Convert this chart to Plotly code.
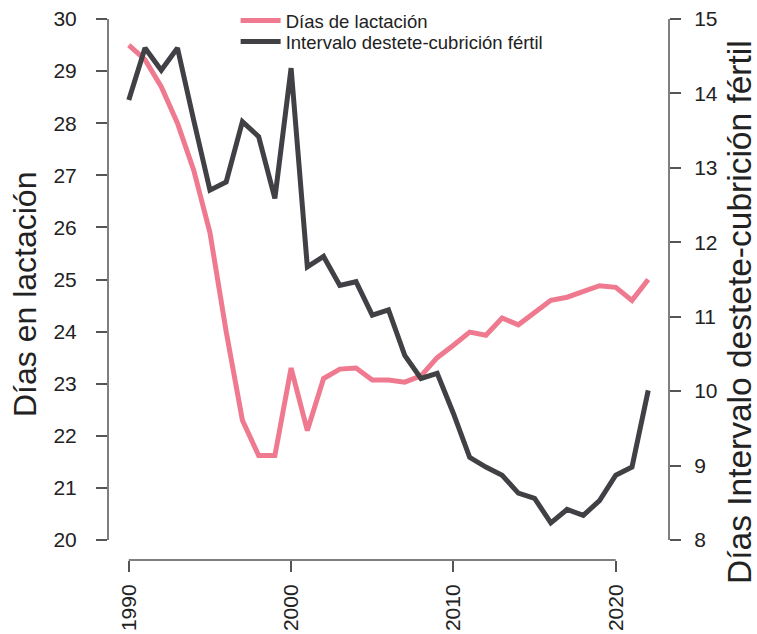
import plotly.graph_objects as go

years = list(range(1990, 2023))
lactacion = [29.5, 29.22, 28.7, 28.0, 27.1, 25.9, 24.0, 22.3, 21.62, 21.62,
             23.3, 22.1, 23.1, 23.28, 23.3, 23.07, 23.07, 23.03, 23.15, 23.5,
             23.74, 23.99, 23.93, 24.26, 24.13, 24.36, 24.6, 24.66, 24.76, 24.88,
             24.85, 24.6, 25.0]
intervalo = [13.91, 14.61, 14.31, 14.61, 13.64, 12.70, 12.81, 13.62, 13.42, 12.59,
             14.34, 11.67, 11.81, 11.42, 11.47, 11.02, 11.09, 10.48, 10.17, 10.24,
             9.70, 9.11, 8.98, 8.87, 8.63, 8.56, 8.23, 8.41, 8.33, 8.53,
             8.87, 8.98, 10.01]

x_ticks = [1990, 2000, 2010, 2020]
left_ticks = list(range(20, 31))
right_ticks = list(range(8, 16))

name_lact = "Días de lactación"
name_int = "Intervalo destete-cubrición fértil"
title_left = "Días en lactación"
title_right = "Días Intervalo destete-cubrición fértil"

PINK = "#EF7A8F"
DARK = "#404045"
AXC = "#555555"
FONT = "Liberation Sans, Arial, sans-serif"

fig = go.Figure()
fig.add_trace(go.Scatter(x=years, y=lactacion, mode="lines", name=name_lact,
                         line=dict(color=PINK, width=5), yaxis="y", legend="legend"))
fig.add_trace(go.Scatter(x=years, y=intervalo, mode="lines", name=name_int,
                         line=dict(color=DARK, width=5), yaxis="y2", legend="legend2"))

axis_common = dict(showgrid=False, zeroline=False, showline=False, ticks="outside",
                   ticklen=11, tickwidth=1.5, tickcolor=AXC, automargin=False,
                   tickfont=dict(family=FONT, size=21, color="#222"))

legend_common = dict(xanchor="left", yanchor="middle", bgcolor="rgba(0,0,0,0)",
                     borderwidth=0, itemwidth=40,
                     font=dict(family=FONT, size=18.5, color="#222"))

fig.update_layout(
    width=757, height=634,
    margin=dict(l=108, r=88, t=0, b=74, autoexpand=False),
    paper_bgcolor="white", plot_bgcolor="white",
    font=dict(family=FONT, color="#222"),
    xaxis=dict(range=[1988.72, 2023.28], tickvals=x_ticks, tickangle=-90,
               ticklabelstandoff=4, **axis_common),
    yaxis=dict(range=[19.616, 30.365], tickvals=left_ticks,
               ticklabelstandoff=15, **axis_common),
    yaxis2=dict(range=[7.731, 15.255], tickvals=right_ticks, overlaying="y",
                side="right", ticklabelstandoff=9, **axis_common),
    showlegend=True,
    legend=dict(x=0.2275, y=1 - 21 / 560, **legend_common),
    legend2=dict(x=0.2275, y=1 - 42 / 560, **legend_common),
)

fig.add_shape(type="line", xref="paper", yref="y", x0=0, x1=0, y0=20, y1=30,
              line=dict(color=AXC, width=1.5))
fig.add_shape(type="line", xref="paper", yref="y2", x0=1, x1=1, y0=8, y1=15,
              line=dict(color=AXC, width=1.5))
fig.add_shape(type="line", xref="x", yref="paper", x0=1990, x1=2020, y0=0, y1=0,
              line=dict(color=AXC, width=1.5))

fig.add_annotation(text=title_left, xref="paper", yref="paper", x=(25 - 108) / 561,
                   y=1 - 295 / 560,
                   textangle=-90, showarrow=False, xanchor="center", yanchor="middle",
                   font=dict(family=FONT, size=32, color="#222"))
fig.add_annotation(text=title_right, xref="paper", yref="paper", x=(739 - 108) / 561,
                   y=1 - 312 / 560,
                   textangle=-90, showarrow=False, xanchor="center", yanchor="middle",
                   font=dict(family=FONT, size=33.5, color="#222"))

fig.write_html("out.html",
               config={"displayModeBar": False},
               post_script="document.body.style.margin='0px';"
                           "document.body.style.overflow='hidden';")
